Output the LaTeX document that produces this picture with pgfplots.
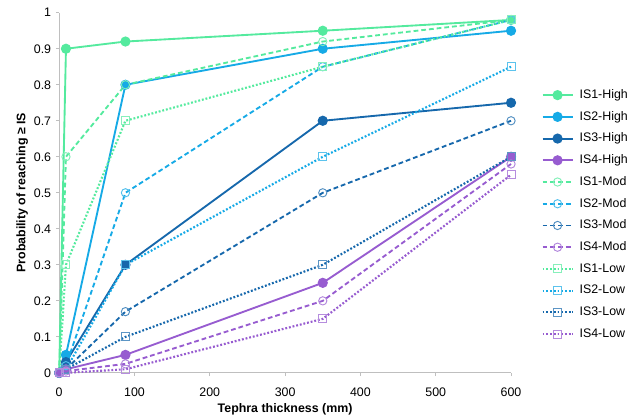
\documentclass[border=0pt]{standalone}
\usepackage{fontspec}
\setmainfont{Liberation Sans}
\usepackage{pgfplots}
\pgfplotsset{compat=1.18}
\definecolor{cA}{RGB}{84,234,158}
\definecolor{cB}{RGB}{22,170,230}
\definecolor{cC}{RGB}{22,104,172}
\definecolor{cD}{RGB}{151,92,208}
\definecolor{axgray}{RGB}{191,191,191}
\tikzset{
  hi/.style={line width=1.4pt, mark=*, mark size=3.1pt, mark options={solid, fill=#1, draw=#1}, color=#1},
  mo/.style={line width=1.4pt, dash pattern=on 3.6pt off 2.2pt, mark=o, mark size=3.1pt, mark options={solid, fill=none, draw=#1!75, line width=0.7pt}, color=#1},
  lo/.style={line width=1.6pt, dash pattern=on 1.4pt off 1.4pt, mark=square, mark size=3pt, mark options={solid, fill=none, draw=#1!70, line width=0.7pt}, color=#1},
}
\begin{document}
\begin{tikzpicture}
\path[use as bounding box] (-44.4pt,-33pt) rectangle (432pt,279.75pt);
\begin{axis}[
  at={(0,0)}, anchor=south west,
  scale only axis, width=339pt, height=270.2pt,
  xmin=0, xmax=600, ymin=0, ymax=1,
  xtick={0,100,...,600},
  ytick={0,0.1,...,1.0},
  axis x line=bottom, axis y line=left,
  axis line style={draw=axgray, line width=0.8pt, -},
  tick style={draw=axgray, line width=0.8pt},
  tick align=outside, major tick length=2.5pt,
  clip=false,
  font=\fontsize{9.3}{11}\selectfont,
  ticklabel style={font=\fontsize{9.3}{11}\selectfont, /pgf/number format/assume math mode=true},
  yticklabel style={/pgf/number format/fixed, /pgf/number format/precision=1},
  xticklabel style={yshift=-5pt},
  xlabel={\bfseries Tephra thickness (mm)},
  ylabel={\bfseries Probability of reaching ≥ IS},
  xlabel style={at={(axis description cs:0.5,-0.1)}, anchor=center},
  ylabel style={at={(axis description cs:-0.082,0.5)}, anchor=center},
  legend style={draw=none, fill=none, at={(axis description cs:1.058,0.796)}, anchor=north west,
    font=\fontsize{9.3}{11}\selectfont,
    nodes={inner sep=0pt, text height=7pt, text depth=2pt},
    row sep=7.3pt, column sep=4.5pt},
  legend cell align=left,
  legend image code/.code={\draw[mark repeat=2,mark phase=2] plot coordinates {(0pt,0pt) (11.25pt,0pt) (22.5pt,0pt)};},
]
\addplot[hi=cA] coordinates {(0,0) (9,0.90) (88,0.92) (350,0.95) (600,0.98)};
\addlegendentry{IS1-High}
\addplot[hi=cB] coordinates {(0,0) (9,0.05) (88,0.80) (350,0.90) (600,0.95)};
\addlegendentry{IS2-High}
\addplot[hi=cC] coordinates {(0,0) (9,0.03) (88,0.30) (350,0.70) (600,0.75)};
\addlegendentry{IS3-High}
\addplot[hi=cD] coordinates {(0,0) (9,0.01) (88,0.05) (350,0.25) (600,0.60)};
\addlegendentry{IS4-High}
\addplot[mo=cA] coordinates {(0,0) (9,0.60) (88,0.80) (350,0.92) (600,0.98)};
\addlegendentry{IS1-Mod}
\addplot[mo=cB] coordinates {(0,0) (9,0.02) (88,0.50) (350,0.85) (600,0.98)};
\addlegendentry{IS2-Mod}
\addplot[mo=cC] coordinates {(0,0) (9,0.01) (88,0.17) (350,0.50) (600,0.70)};
\addlegendentry{IS3-Mod}
\addplot[mo=cD] coordinates {(0,0) (9,0.005) (88,0.025) (350,0.20) (600,0.58)};
\addlegendentry{IS4-Mod}
\addplot[lo=cA] coordinates {(0,0) (9,0.30) (88,0.70) (350,0.85) (600,0.98)};
\addlegendentry{IS1-Low}
\addplot[lo=cB] coordinates {(0,0) (9,0.01) (88,0.30) (350,0.60) (600,0.85)};
\addlegendentry{IS2-Low}
\addplot[lo=cC] coordinates {(0,0) (9,0.01) (88,0.10) (350,0.30) (600,0.60)};
\addlegendentry{IS3-Low}
\addplot[lo=cD] coordinates {(0,0) (9,0) (88,0.01) (350,0.15) (600,0.55)};
\addlegendentry{IS4-Low}
\end{axis}
\end{tikzpicture}
\end{document}
